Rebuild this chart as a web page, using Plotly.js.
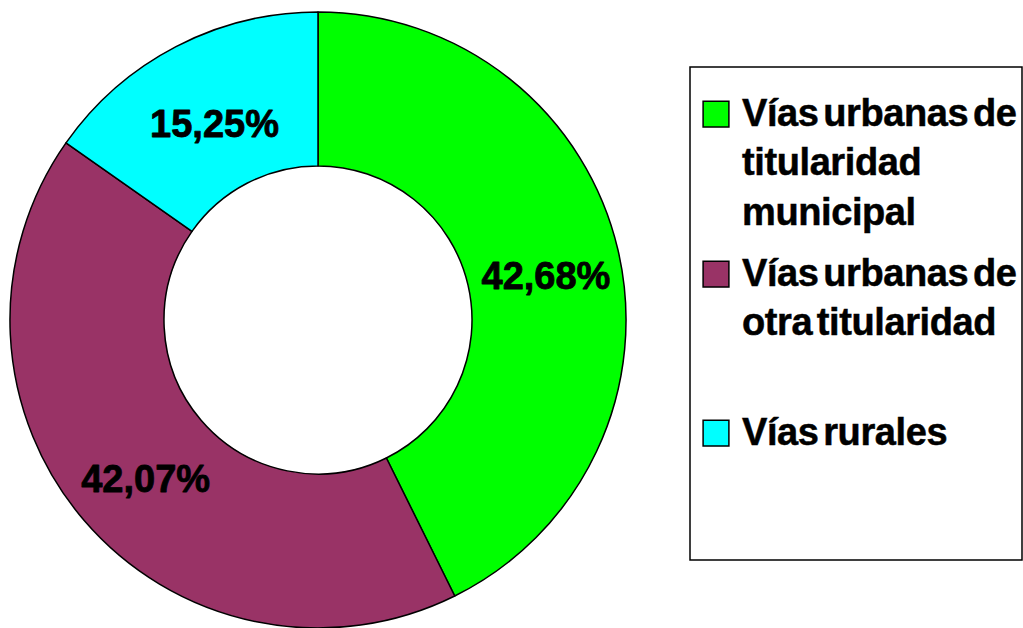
<!DOCTYPE html>
<html>
<head>
<meta charset="utf-8">
<script src="https://cdn.plot.ly/plotly-3.0.1.min.js"></script>
<style>
  html, body { margin: 0; padding: 0; background: #fff; }
  #chart { width: 1023px; height: 628px; }
  /* heavier, slightly lower slice labels */
  g.slicetext > text { stroke: #000; stroke-width: 0.8px; translate: 3px 9px; }
  /* legend text: tight word spacing as in the reference */
  .legendtext { stroke: #000; stroke-width: 0.5px; letter-spacing: -0.4px; word-spacing: -5.5px; }
  /* larger square legend swatches */
  .legendpoints path.legendpie { transform: translate(14px, 3px) scale(2.15); vector-effect: non-scaling-stroke; }
  /* extra vertical gaps between legend entries (no clipping of the shifted entries) */
  g.legend, g.legend g { clip-path: none !important; }
  g.legend g.traces:nth-child(2) { translate: 0px 8.8px; }
  g.legend g.traces:nth-child(3) { translate: 0px 66px; }
</style>
</head>
<body>
<div id="chart"></div>
<script>
// Data
const categories = [
  'Vías urbanas de titularidad municipal',
  'Vías urbanas de otra titularidad',
  'Vías rurales'
];
const legendLines = [
  ['Vías urbanas de', 'titularidad', 'municipal'],
  ['Vías urbanas de', 'otra titularidad'],
  ['Vías rurales']
];
const percentages = [42.68, 42.07, 15.25];
const percentLabels = ['42,68%', '42,07%', '15,25%'];
const sliceColors = ['#00FF00', '#993366', '#00FFFF'];

const legendLabels = legendLines.map(lines => lines.join('<br>'));

const trace = {
  type: 'pie',
  values: percentages,
  labels: legendLabels,
  text: percentLabels,
  textinfo: 'text',
  textposition: 'inside',
  insidetextorientation: 'horizontal',
  hole: 0.5,
  sort: false,
  direction: 'clockwise',
  rotation: 0,
  marker: { colors: sliceColors, line: { color: '#000000', width: 1.5 } },
  textfont: { family: 'Liberation Sans, Arial, sans-serif', size: 38, color: '#000000', weight: 'bold' },
  domain: { x: [9 / 1023, 627 / 1023], y: [0, 0.981] },
  hoverinfo: 'none'
};

const layout = {
  width: 1023,
  height: 628,
  margin: { l: 0, r: 0, t: 0, b: 0, pad: 0 },
  paper_bgcolor: '#ffffff',
  plot_bgcolor: '#ffffff',
  showlegend: true,
  legend: {
    x: 702 / 1023,
    xanchor: 'left',
    y: 1 - 80 / 628,
    yanchor: 'top',
    valign: 'top',
    bgcolor: 'rgba(0,0,0,0)',
    borderwidth: 0,
    font: { family: 'Liberation Sans, Arial, sans-serif', size: 38, color: '#000000', weight: 'bold' },
    itemclick: false,
    itemdoubleclick: false
  },
  shapes: [{
    type: 'rect', xref: 'paper', yref: 'paper',
    x0: 690 / 1023, x1: 1022 / 1023, y0: 1 - 560 / 628, y1: 1 - 67 / 628,
    line: { color: '#000000', width: 1.5 }, fillcolor: 'rgba(0,0,0,0)', layer: 'below'
  }]
};

Plotly.newPlot('chart', [trace], layout, { displayModeBar: false, staticPlot: true });
</script>
</body>
</html>
